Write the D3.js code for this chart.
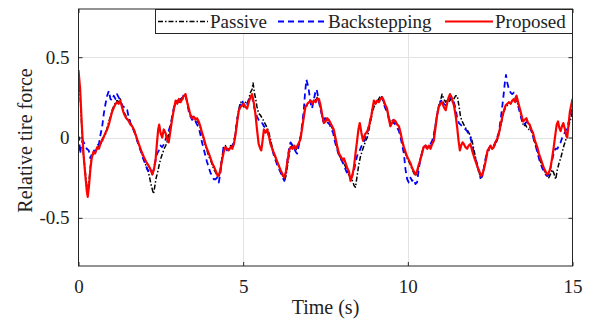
<!DOCTYPE html>
<html><head><meta charset="utf-8">
<script src="https://cdn.jsdelivr.net/npm/d3@7"></script>
<style>
html,body{margin:0;padding:0;background:#fff;}
svg{display:block;font-family:"Liberation Serif","Times New Roman",serif;}
</style></head>
<body><svg id="c" width="597" height="322"></svg>
<script>
const xTicks = [0, 5, 10, 15];
const yTicks = [-0.5, 0, 0.5];
const yTickLabels = ["-0.5", "0", "0.5"];
const xDomain = [0, 15];
const yDomain = [-0.8, 0.8];
const seriesNames = ["Passive", "Backstepping", "Proposed"];

const passive = [[0,0.38],[0.05,0.26],[0.1,0.06],[0.15,-0.1],[0.2,-0.2],[0.25,-0.3],[0.28,-0.33],[0.32,-0.27],[0.36,-0.18],[0.4,-0.12],[0.45,-0.1],[0.5,-0.09],[0.57,-0.07],[0.62,-0.05],[0.68,-0.04],[0.72,-0.01],[0.78,0.01],[0.82,0.02],[0.87,0.06],[0.92,0.1],[0.97,0.13],[1.02,0.17],[1.08,0.2],[1.13,0.22],[1.17,0.23],[1.22,0.22],[1.27,0.24],[1.32,0.2],[1.36,0.16],[1.4,0.15],[1.45,0.13],[1.5,0.1],[1.55,0.11],[1.6,0.08],[1.65,0.06],[1.7,0.04],[1.75,0.01],[1.8,-0.03],[1.86,-0.06],[1.92,-0.1],[1.98,-0.13],[2.04,-0.17],[2.1,-0.2],[2.15,-0.24],[2.2,-0.29],[2.25,-0.33],[2.28,-0.35],[2.32,-0.3],[2.36,-0.25],[2.4,-0.22],[2.45,-0.17],[2.5,-0.13],[2.55,-0.1],[2.6,-0.07],[2.65,-0.05],[2.7,-0.02],[2.75,0.03],[2.8,0.08],[2.85,0.13],[2.9,0.18],[2.95,0.22],[3.0,0.23],[3.05,0.22],[3.1,0.24],[3.15,0.23],[3.2,0.26],[3.25,0.26],[3.3,0.22],[3.35,0.17],[3.4,0.14],[3.45,0.13],[3.5,0.12],[3.55,0.12],[3.6,0.1],[3.65,0.09],[3.7,0.06],[3.75,0.02],[3.8,-0.01],[3.85,-0.05],[3.9,-0.08],[3.96,-0.12],[4.01,-0.14],[4.06,-0.17],[4.11,-0.2],[4.17,-0.22],[4.23,-0.25],[4.27,-0.24],[4.31,-0.19],[4.36,-0.12],[4.41,-0.06],[4.46,-0.05],[4.51,-0.08],[4.56,-0.07],[4.62,-0.05],[4.67,-0.06],[4.72,-0.03],[4.77,0.04],[4.82,0.12],[4.87,0.18],[4.92,0.22],[4.97,0.21],[5.02,0.19],[5.07,0.22],[5.12,0.21],[5.17,0.24],[5.22,0.28],[5.27,0.3],[5.3,0.34],[5.34,0.28],[5.38,0.24],[5.42,0.19],[5.47,0.15],[5.52,0.14],[5.58,0.12],[5.63,0.1],[5.68,0.08],[5.73,0.06],[5.78,0.03],[5.83,-0.01],[5.88,-0.06],[5.93,-0.1],[5.98,-0.13],[6.05,-0.16],[6.13,-0.2],[6.2,-0.24],[6.25,-0.27],[6.3,-0.24],[6.35,-0.17],[6.4,-0.1],[6.44,-0.06],[6.5,-0.05],[6.55,-0.06],[6.6,-0.08],[6.65,-0.05],[6.7,-0.03],[6.74,0.0],[6.8,0.08],[6.85,0.15],[6.89,0.19],[6.95,0.2],[7.0,0.23],[7.05,0.22],[7.1,0.21],[7.15,0.24],[7.2,0.23],[7.25,0.25],[7.3,0.23],[7.35,0.18],[7.4,0.13],[7.45,0.1],[7.5,0.12],[7.55,0.11],[7.6,0.1],[7.65,0.08],[7.7,0.06],[7.75,0.04],[7.8,-0.01],[7.85,-0.06],[7.91,-0.11],[7.97,-0.13],[8.02,-0.15],[8.08,-0.17],[8.14,-0.2],[8.2,-0.23],[8.26,-0.25],[8.32,-0.27],[8.37,-0.3],[8.41,-0.31],[8.46,-0.24],[8.51,-0.17],[8.56,-0.12],[8.62,-0.08],[8.67,-0.05],[8.72,-0.02],[8.77,0.0],[8.82,0.05],[8.87,0.1],[8.92,0.15],[8.97,0.19],[9.02,0.21],[9.07,0.22],[9.12,0.24],[9.17,0.26],[9.22,0.25],[9.27,0.22],[9.32,0.19],[9.37,0.17],[9.42,0.13],[9.47,0.09],[9.52,0.1],[9.57,0.11],[9.63,0.09],[9.68,0.08],[9.73,0.06],[9.78,0.02],[9.83,-0.03],[9.88,-0.07],[9.93,-0.1],[9.98,-0.13],[10.03,-0.15],[10.08,-0.17],[10.13,-0.2],[10.18,-0.22],[10.23,-0.24],[10.28,-0.22],[10.33,-0.18],[10.38,-0.13],[10.43,-0.09],[10.48,-0.06],[10.54,-0.06],[10.59,-0.07],[10.64,-0.06],[10.69,-0.06],[10.74,-0.03],[10.79,0.0],[10.84,0.08],[10.89,0.15],[10.94,0.2],[10.99,0.23],[11.04,0.27],[11.09,0.24],[11.15,0.22],[11.2,0.24],[11.25,0.22],[11.3,0.24],[11.35,0.22],[11.4,0.24],[11.45,0.26],[11.5,0.26],[11.55,0.2],[11.6,0.13],[11.65,0.1],[11.7,0.08],[11.75,0.06],[11.8,0.05],[11.85,0.03],[11.9,0.01],[11.95,-0.02],[12.0,-0.07],[12.05,-0.12],[12.1,-0.16],[12.15,-0.2],[12.21,-0.26],[12.26,-0.24],[12.31,-0.19],[12.36,-0.14],[12.41,-0.1],[12.46,-0.08],[12.51,-0.06],[12.56,-0.07],[12.61,-0.06],[12.66,-0.04],[12.71,-0.02],[12.76,0.02],[12.82,0.07],[12.87,0.12],[12.92,0.16],[12.97,0.19],[13.02,0.2],[13.07,0.22],[13.12,0.21],[13.17,0.22],[13.22,0.23],[13.27,0.25],[13.32,0.22],[13.37,0.19],[13.42,0.15],[13.47,0.1],[13.52,0.07],[13.57,0.08],[13.62,0.06],[13.67,0.05],[13.72,0.06],[13.77,0.03],[13.82,0.0],[13.88,-0.05],[13.93,-0.08],[13.98,-0.12],[14.03,-0.15],[14.08,-0.18],[14.13,-0.2],[14.18,-0.22],[14.23,-0.24],[14.28,-0.25],[14.33,-0.23],[14.38,-0.2],[14.43,-0.22],[14.49,-0.26],[14.54,-0.2],[14.59,-0.16],[14.64,-0.13],[14.69,-0.09],[14.74,-0.05],[14.79,-0.02],[14.84,0.03],[14.89,0.08],[14.94,0.11],[15.0,0.16]];

const backstepping = [[0,-0.08],[0.02,0.0],[0.05,-0.1],[0.08,-0.05],[0.12,-0.02],[0.16,-0.03],[0.2,-0.05],[0.25,-0.07],[0.31,-0.08],[0.36,-0.13],[0.41,-0.1],[0.47,-0.08],[0.52,-0.09],[0.57,-0.05],[0.62,-0.04],[0.67,0.02],[0.72,0.07],[0.77,0.15],[0.82,0.21],[0.87,0.26],[0.92,0.29],[0.97,0.24],[1.02,0.23],[1.07,0.26],[1.12,0.24],[1.17,0.27],[1.22,0.25],[1.27,0.23],[1.32,0.2],[1.38,0.19],[1.43,0.17],[1.48,0.17],[1.53,0.12],[1.58,0.09],[1.63,0.07],[1.68,0.04],[1.73,0.02],[1.78,-0.02],[1.83,-0.05],[1.9,-0.09],[1.96,-0.13],[2.02,-0.16],[2.09,-0.2],[2.14,-0.21],[2.19,-0.22],[2.24,-0.23],[2.29,-0.19],[2.34,-0.14],[2.39,-0.1],[2.44,-0.08],[2.49,-0.05],[2.54,-0.06],[2.6,-0.04],[2.65,-0.01],[2.7,0.02],[2.75,0.05],[2.8,0.08],[2.85,0.14],[2.9,0.19],[2.95,0.22],[3.0,0.23],[3.05,0.22],[3.1,0.25],[3.15,0.24],[3.2,0.27],[3.25,0.26],[3.3,0.22],[3.35,0.16],[3.4,0.13],[3.45,0.11],[3.5,0.12],[3.55,0.1],[3.6,0.08],[3.65,0.06],[3.7,0.02],[3.75,-0.03],[3.8,-0.07],[3.85,-0.11],[3.9,-0.15],[3.96,-0.19],[4.01,-0.22],[4.06,-0.24],[4.11,-0.26],[4.16,-0.26],[4.21,-0.25],[4.26,-0.28],[4.31,-0.22],[4.36,-0.13],[4.41,-0.05],[4.46,-0.06],[4.51,-0.08],[4.56,-0.06],[4.62,-0.07],[4.67,-0.05],[4.72,-0.03],[4.77,0.03],[4.82,0.11],[4.87,0.17],[4.92,0.2],[4.97,0.23],[5.02,0.2],[5.07,0.22],[5.12,0.21],[5.17,0.23],[5.22,0.25],[5.27,0.26],[5.32,0.2],[5.37,0.16],[5.42,0.13],[5.47,0.11],[5.52,0.09],[5.58,0.09],[5.63,0.07],[5.68,0.06],[5.73,0.04],[5.78,0.01],[5.83,-0.03],[5.88,-0.07],[5.93,-0.11],[5.98,-0.14],[6.05,-0.18],[6.12,-0.21],[6.18,-0.24],[6.25,-0.27],[6.3,-0.22],[6.35,-0.13],[6.4,-0.06],[6.44,-0.03],[6.5,-0.05],[6.55,-0.07],[6.6,-0.09],[6.64,-0.1],[6.69,-0.05],[6.74,0.0],[6.79,0.08],[6.84,0.17],[6.88,0.28],[6.92,0.36],[6.96,0.33],[6.99,0.3],[7.04,0.22],[7.09,0.18],[7.14,0.23],[7.19,0.28],[7.23,0.3],[7.28,0.25],[7.33,0.19],[7.38,0.15],[7.43,0.1],[7.48,0.12],[7.53,0.11],[7.58,0.09],[7.63,0.08],[7.68,0.05],[7.73,0.03],[7.78,-0.02],[7.83,-0.06],[7.89,-0.1],[7.95,-0.13],[8.01,-0.15],[8.07,-0.18],[8.13,-0.21],[8.19,-0.23],[8.25,-0.25],[8.31,-0.24],[8.37,-0.2],[8.43,-0.14],[8.48,-0.1],[8.54,-0.08],[8.6,-0.05],[8.66,-0.03],[8.72,0.0],[8.77,0.03],[8.82,0.08],[8.87,0.12],[8.92,0.17],[8.97,0.2],[9.02,0.22],[9.07,0.23],[9.12,0.22],[9.17,0.24],[9.22,0.25],[9.27,0.21],[9.32,0.18],[9.37,0.16],[9.42,0.12],[9.47,0.1],[9.52,0.11],[9.57,0.09],[9.63,0.08],[9.68,0.06],[9.73,0.04],[9.78,0.0],[9.83,-0.05],[9.88,-0.1],[9.93,-0.2],[9.98,-0.26],[10.03,-0.28],[10.08,-0.25],[10.13,-0.27],[10.18,-0.26],[10.23,-0.29],[10.28,-0.28],[10.33,-0.2],[10.38,-0.14],[10.43,-0.1],[10.48,-0.06],[10.54,-0.05],[10.59,-0.06],[10.64,-0.06],[10.69,-0.04],[10.74,-0.02],[10.79,0.02],[10.84,0.08],[10.89,0.14],[10.94,0.19],[10.99,0.22],[11.04,0.24],[11.09,0.21],[11.15,0.2],[11.2,0.23],[11.25,0.24],[11.3,0.25],[11.35,0.23],[11.4,0.22],[11.45,0.18],[11.5,0.12],[11.55,0.09],[11.6,0.08],[11.65,0.07],[11.7,0.06],[11.75,0.05],[11.8,0.04],[11.85,0.02],[11.9,0.0],[11.95,-0.04],[12.0,-0.09],[12.05,-0.13],[12.1,-0.17],[12.15,-0.21],[12.21,-0.25],[12.26,-0.24],[12.31,-0.19],[12.36,-0.13],[12.41,-0.09],[12.46,-0.07],[12.51,-0.05],[12.56,-0.06],[12.61,-0.05],[12.66,-0.03],[12.71,0.0],[12.76,0.03],[12.81,0.1],[12.86,0.18],[12.91,0.27],[12.95,0.35],[12.98,0.39],[13.02,0.34],[13.07,0.3],[13.12,0.28],[13.17,0.27],[13.22,0.28],[13.27,0.26],[13.32,0.22],[13.37,0.18],[13.42,0.14],[13.47,0.1],[13.52,0.08],[13.57,0.09],[13.62,0.1],[13.67,0.08],[13.72,0.06],[13.77,0.03],[13.82,-0.01],[13.88,-0.05],[13.93,-0.09],[13.98,-0.13],[14.03,-0.16],[14.08,-0.19],[14.13,-0.21],[14.18,-0.23],[14.23,-0.24],[14.28,-0.23],[14.33,-0.19],[14.38,-0.14],[14.43,-0.1],[14.48,-0.07],[14.54,-0.07],[14.59,-0.05],[14.64,-0.03],[14.69,0.0],[14.74,0.02],[14.79,0.04],[14.84,0.07],[14.89,0.1],[14.94,0.15],[15.0,0.2]];

const proposed = [[0,0.42],[0.05,0.3],[0.1,0.08],[0.15,-0.1],[0.2,-0.22],[0.25,-0.33],[0.28,-0.37],[0.32,-0.3],[0.36,-0.2],[0.4,-0.13],[0.45,-0.09],[0.5,-0.1],[0.57,-0.06],[0.62,-0.07],[0.68,-0.03],[0.72,-0.02],[0.78,0.01],[0.82,0.03],[0.87,0.05],[0.92,0.08],[0.97,0.12],[1.02,0.16],[1.08,0.19],[1.13,0.21],[1.17,0.22],[1.22,0.21],[1.27,0.23],[1.32,0.19],[1.36,0.16],[1.4,0.14],[1.45,0.12],[1.5,0.11],[1.53,0.1],[1.58,0.08],[1.63,0.07],[1.68,0.05],[1.73,0.02],[1.78,-0.01],[1.83,-0.04],[1.9,-0.08],[1.98,-0.12],[2.05,-0.15],[2.14,-0.18],[2.19,-0.2],[2.24,-0.23],[2.29,-0.2],[2.34,-0.14],[2.38,-0.04],[2.42,0.05],[2.45,0.08],[2.49,0.03],[2.54,0.0],[2.59,0.05],[2.64,0.03],[2.69,-0.01],[2.74,-0.03],[2.79,0.04],[2.84,0.11],[2.9,0.18],[2.95,0.23],[3.0,0.21],[3.05,0.24],[3.1,0.22],[3.15,0.24],[3.2,0.26],[3.25,0.27],[3.3,0.22],[3.35,0.18],[3.4,0.14],[3.45,0.12],[3.5,0.13],[3.55,0.11],[3.6,0.12],[3.65,0.1],[3.7,0.07],[3.75,0.03],[3.8,0.0],[3.85,-0.04],[3.9,-0.07],[3.96,-0.1],[4.01,-0.13],[4.06,-0.16],[4.11,-0.18],[4.17,-0.21],[4.23,-0.24],[4.27,-0.23],[4.31,-0.2],[4.36,-0.14],[4.41,-0.09],[4.46,-0.06],[4.51,-0.07],[4.56,-0.08],[4.62,-0.06],[4.67,-0.07],[4.72,-0.04],[4.77,0.02],[4.82,0.1],[4.87,0.17],[4.92,0.19],[4.97,0.2],[5.02,0.21],[5.07,0.19],[5.12,0.18],[5.17,0.22],[5.22,0.25],[5.27,0.27],[5.32,0.22],[5.37,0.15],[5.42,0.05],[5.47,-0.04],[5.52,-0.07],[5.55,-0.08],[5.59,-0.02],[5.63,0.05],[5.68,0.03],[5.73,0.05],[5.78,0.01],[5.83,-0.04],[5.9,-0.08],[5.98,-0.12],[6.05,-0.16],[6.13,-0.2],[6.2,-0.23],[6.25,-0.25],[6.3,-0.21],[6.35,-0.14],[6.4,-0.08],[6.44,-0.06],[6.5,-0.07],[6.55,-0.05],[6.59,-0.07],[6.65,-0.05],[6.7,-0.03],[6.74,-0.01],[6.8,0.07],[6.85,0.14],[6.89,0.19],[6.95,0.21],[7.0,0.22],[7.05,0.23],[7.1,0.21],[7.15,0.23],[7.2,0.22],[7.25,0.24],[7.3,0.24],[7.35,0.2],[7.4,0.14],[7.45,0.09],[7.5,0.1],[7.55,0.12],[7.6,0.11],[7.65,0.09],[7.7,0.07],[7.75,0.05],[7.8,0.0],[7.85,-0.05],[7.91,-0.1],[7.97,-0.12],[8.02,-0.14],[8.06,-0.13],[8.11,-0.16],[8.16,-0.19],[8.21,-0.21],[8.26,-0.27],[8.31,-0.24],[8.36,-0.19],[8.41,-0.1],[8.46,-0.02],[8.5,0.05],[8.54,0.09],[8.59,0.03],[8.64,-0.02],[8.7,0.02],[8.77,0.04],[8.82,0.07],[8.87,0.11],[8.92,0.17],[8.97,0.23],[9.02,0.21],[9.07,0.23],[9.12,0.22],[9.17,0.24],[9.22,0.25],[9.27,0.23],[9.32,0.2],[9.37,0.18],[9.42,0.12],[9.47,0.07],[9.52,0.09],[9.57,0.11],[9.63,0.1],[9.68,0.08],[9.73,0.07],[9.78,0.03],[9.83,-0.02],[9.88,-0.06],[9.93,-0.09],[9.98,-0.12],[10.03,-0.14],[10.08,-0.16],[10.13,-0.19],[10.18,-0.21],[10.23,-0.23],[10.28,-0.21],[10.33,-0.17],[10.38,-0.14],[10.43,-0.1],[10.48,-0.06],[10.54,-0.05],[10.59,-0.07],[10.64,-0.05],[10.69,-0.07],[10.74,-0.04],[10.79,-0.02],[10.84,0.06],[10.89,0.14],[10.94,0.19],[10.99,0.21],[11.04,0.22],[11.09,0.19],[11.15,0.17],[11.2,0.22],[11.24,0.25],[11.28,0.27],[11.33,0.25],[11.37,0.22],[11.4,0.2],[11.45,0.14],[11.5,0.06],[11.54,-0.02],[11.58,-0.08],[11.62,-0.05],[11.66,-0.03],[11.7,-0.04],[11.75,-0.06],[11.8,-0.07],[11.85,-0.05],[11.9,-0.04],[11.95,-0.08],[12.01,-0.12],[12.06,-0.15],[12.11,-0.18],[12.17,-0.21],[12.23,-0.24],[12.28,-0.22],[12.33,-0.18],[12.38,-0.13],[12.42,-0.08],[12.46,-0.07],[12.51,-0.05],[12.56,-0.07],[12.61,-0.06],[12.66,-0.03],[12.71,-0.01],[12.76,0.02],[12.82,0.08],[12.87,0.13],[12.92,0.17],[12.97,0.2],[13.02,0.21],[13.07,0.22],[13.12,0.21],[13.17,0.23],[13.22,0.24],[13.26,0.22],[13.3,0.26],[13.35,0.22],[13.4,0.18],[13.45,0.14],[13.5,0.1],[13.55,0.11],[13.6,0.12],[13.65,0.09],[13.7,0.08],[13.75,0.05],[13.8,0.03],[13.86,-0.02],[13.93,-0.06],[13.98,-0.1],[14.03,-0.13],[14.08,-0.16],[14.13,-0.19],[14.18,-0.21],[14.23,-0.23],[14.28,-0.22],[14.33,-0.19],[14.38,-0.13],[14.43,-0.06],[14.48,0.02],[14.52,0.08],[14.56,0.1],[14.6,0.06],[14.64,0.04],[14.68,0.07],[14.72,0.09],[14.76,0.06],[14.8,0.02],[14.84,0.0],[14.88,0.08],[14.92,0.16],[14.96,0.2],[15.0,0.24]];

const svg = d3.select("#c");
const L = 78.5, R = 572.5, T = 9, B = 266;
const x = d3.scaleLinear().domain(xDomain).range([L, R]);
const y = d3.scaleLinear().domain(yDomain).range([B, T]);
const axisColor = "#262626";
const gridColor = "#e3e3e3";

// grid
svg.append("g").selectAll("line").data(yTicks).join("line")
  .attr("x1", L).attr("x2", R).attr("y1", d => Math.round(y(d)) + 0.5).attr("y2", d => Math.round(y(d)) + 0.5)
  .attr("stroke", gridColor).attr("stroke-width", 1);
svg.append("g").selectAll("line").data(xTicks.slice(1, -1)).join("line")
  .attr("y1", T).attr("y2", B).attr("x1", d => Math.round(x(d)) + 0.5).attr("x2", d => Math.round(x(d)) + 0.5)
  .attr("stroke", gridColor).attr("stroke-width", 1);

svg.append("clipPath").attr("id", "clip").append("rect")
  .attr("x", L).attr("y", T).attr("width", R - L).attr("height", B - T);

const line = d3.line().x(d => x(d[0])).y(d => y(d[1]));
const plot = svg.append("g").attr("clip-path", "url(#clip)");
const styles = [
  {data: passive, color: "#000000", width: 1.5, dash: "5,2,1.5,2"},
  {data: backstepping, color: "#0000ff", width: 1.8, dash: "6,4"},
  {data: proposed, color: "#ff0000", width: 2.2, dash: null}
];
styles.forEach(s => {
  plot.append("path").datum(s.data).attr("d", line)
    .attr("fill", "none").attr("stroke", s.color).attr("stroke-width", s.width)
    .attr("stroke-dasharray", s.dash).attr("stroke-linejoin", "round");
});

// axes
const fs = "19px";
const ax = svg.append("g").attr("transform", `translate(0,${B})`)
  .call(d3.axisBottom(x).tickValues(xTicks).tickSize(-4).tickPadding(10).tickFormat(d3.format("d")));
const axT = svg.append("g").attr("transform", `translate(0,${T})`)
  .call(d3.axisTop(x).tickValues(xTicks).tickSize(-4).tickFormat(""));
const ay = svg.append("g").attr("transform", `translate(${L},0)`)
  .call(d3.axisLeft(y).tickValues(yTicks).tickSize(-4).tickPadding(9).tickFormat((d, i) => yTickLabels[i]));
const ayR = svg.append("g").attr("transform", `translate(${R},0)`)
  .call(d3.axisRight(y).tickValues(yTicks).tickSize(-4).tickFormat(""));
[ax, axT, ay, ayR].forEach(g => {
  g.select(".domain").remove();
  g.selectAll("line").attr("stroke", axisColor);
  g.selectAll("text").attr("fill", "#222").style("font-size", fs).style("font-family", "Liberation Serif");
});
ax.selectAll("text").attr("dy", "0.9em");
svg.append("rect").attr("x", L).attr("y", T).attr("width", R - L).attr("height", B - T)
  .attr("fill", "none").attr("stroke", axisColor).attr("stroke-width", 1);

svg.append("text").attr("x", (L + R) / 2).attr("y", 314).attr("text-anchor", "middle")
  .style("font-size", "20px").attr("fill", "#222").text("Time (s)");
svg.append("text").attr("transform", `translate(32,${(T + B) / 2 + 3}) rotate(-90)`).attr("text-anchor", "middle")
  .style("font-size", "20px").attr("fill", "#222").text("Relative tire force");

// legend
const lg = svg.append("g");
lg.append("rect").attr("x", 155.5).attr("y", 9.5).attr("width", 417).attr("height", 24)
  .attr("fill", "#fff").attr("stroke", axisColor).attr("stroke-width", 1);
const legendPos = [{x1: 158, x2: 208, tx: 210}, {x1: 278, x2: 326, tx: 328}, {x1: 445, x2: 493, tx: 495}];
styles.forEach((s, i) => {
  const p = legendPos[i];
  lg.append("line").attr("x1", p.x1).attr("x2", p.x2).attr("y1", 21.5).attr("y2", 21.5)
    .attr("stroke", s.color).attr("stroke-width", s.width).attr("stroke-dasharray", s.dash);
  lg.append("text").attr("x", p.tx).attr("y", 28).style("font-size", fs).attr("fill", "#222").text(seriesNames[i]);
});
</script></body></html>
